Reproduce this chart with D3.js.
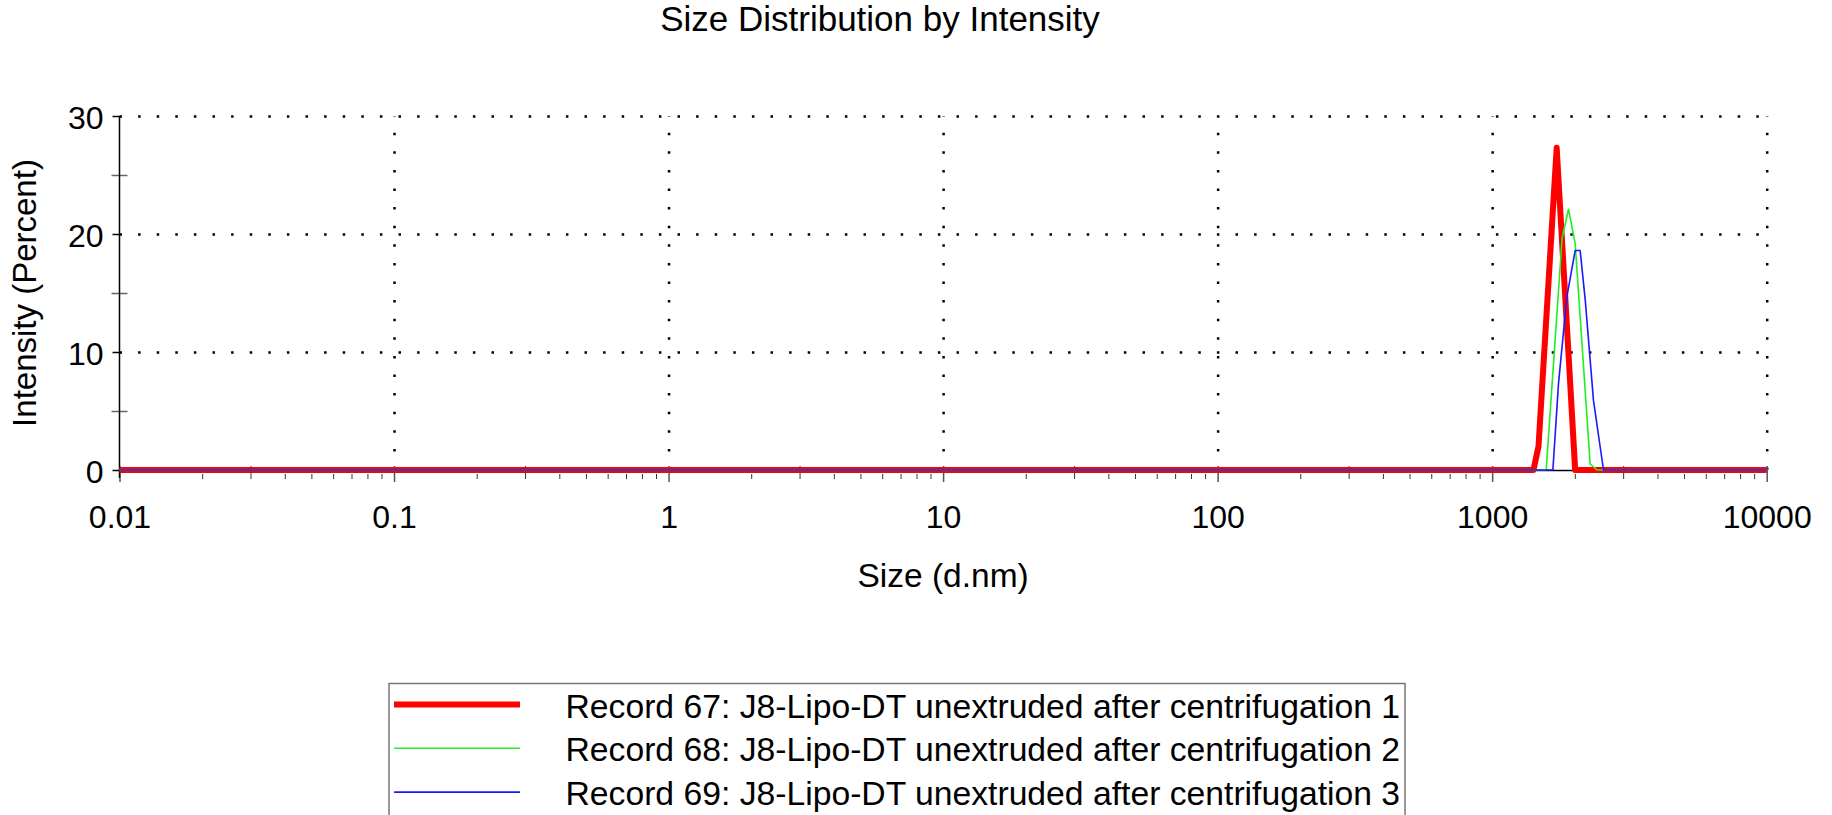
<!DOCTYPE html>
<html>
<head>
<meta charset="utf-8">
<script src="https://cdn.jsdelivr.net/npm/d3@7"></script>
<style>
  body { margin: 0; background: #fff; }
  svg { display: block; font-family: "Liberation Sans", Arial, sans-serif; }
</style>
</head>
<body>
<svg id="chart" width="1832" height="815"></svg>
<script>
// size (d.nm) / intensity (%), one pair per record
const sizes67 = [0.01, 1414, 1475, 1718, 2006, 10000]
const intensity67 = [0, 0, 2.0, 27.3, 0, 0]

const sizes68 = [0.01, 1573, 1799, 1897, 2006, 2275, 2413, 10000]
const intensity68 = [0, 0, 19.7, 22.1, 19.2, 0.5, 0, 0]

const sizes69 = [0.01, 1664, 1744, 1872, 2006, 2092, 2183, 2339, 2544, 10000]
const intensity69 = [0, 0, 7.3, 14.7, 18.6, 18.6, 14.4, 5.9, 0, 0]

const recordNames = [
  'Record 67: J8-Lipo-DT unextruded after centrifugation 1',
  'Record 68: J8-Lipo-DT unextruded after centrifugation 2',
  'Record 69: J8-Lipo-DT unextruded after centrifugation 3'
]

const xTicks = [0.01, 0.1, 1, 10, 100, 1000, 10000]
const xTickLabels = ['0.01', '0.1', '1', '10', '100', '1000', '10000']
const yTicks = [0, 10, 20, 30]
const yMinorTicks = [5, 15, 25]

var svg = d3.select('#chart')
var pLeft = 119.5, pRight = 1766.7, pTop = 116, pBottom = 470

var x = d3.scaleLog().domain([0.01, 10000]).range([pLeft, pRight])
var y = d3.scaleLinear().domain([0, 30]).range([pBottom, pTop])

var records = [
  {name: recordNames[0], sizes: sizes67, vals: intensity67, color: '#ff0000', width: 6},
  {name: recordNames[1], sizes: sizes68, vals: intensity68, color: '#22ee22', width: 1.6},
  {name: recordNames[2], sizes: sizes69, vals: intensity69, color: '#1a1aff', width: 1.6}
]

// title
svg.append('text')
  .attr('x', 880).attr('y', 31)
  .attr('text-anchor', 'middle')
  .attr('font-size', 35)
  .text('Size Distribution by Intensity')

// dotted grid
svg.append('g')
  .attr('transform', 'translate(0,' + pBottom + ')')
  .call(d3.axisBottom(x).tickValues(xTicks.slice(1)).tickSize(-(pBottom - pTop)).tickFormat(''))
  .call(g => g.select('.domain').remove())
  .selectAll('.tick line')
  .attr('stroke', '#000').attr('stroke-width', 2.5).attr('stroke-dasharray', '2.5 16.1')

svg.append('g')
  .attr('transform', 'translate(' + pLeft + ',0)')
  .call(d3.axisLeft(y).tickValues(yTicks.slice(1)).tickSize(-(pRight - pLeft)).tickFormat(''))
  .call(g => g.select('.domain').remove())
  .selectAll('.tick line')
  .attr('stroke', '#000').attr('stroke-width', 2.5).attr('stroke-dasharray', '2.5 16.1')

// x axis
var minorX = []
for (var k = -2; k < 4; k++) {
  for (var m = 2; m < 10; m++) minorX.push(m * Math.pow(10, k))
}

svg.append('g')
  .attr('transform', 'translate(0,' + pBottom + ')')
  .call(d3.axisBottom(x).tickValues(minorX).tickSize(9).tickFormat(''))
  .call(g => g.select('.domain').remove())
  .selectAll('.tick line')
  .attr('stroke', '#333')
  .attr('y1', d => (Math.round(d / Math.pow(10, Math.floor(Math.log10(d) + 1e-9))) === 3 ? -4 : 4))

var xAxis = svg.append('g')
  .attr('transform', 'translate(0,' + pBottom + ')')
  .call(d3.axisBottom(x).tickValues(xTicks).tickSizeInner(12).tickSizeOuter(0).tickPadding(23)
    .tickFormat((d, i) => xTickLabels[i]))
xAxis.select('.domain').attr('stroke', '#000').attr('stroke-width', 1.5)
xAxis.selectAll('.tick line').attr('y1', -4).attr('stroke', '#555').attr('stroke-width', 1.5)
xAxis.selectAll('text').attr('font-size', 32).attr('fill', '#000').attr('font-family', null)

// y axis
svg.append('g')
  .attr('transform', 'translate(' + pLeft + ',0)')
  .call(d3.axisLeft(y).tickValues(yMinorTicks).tickSize(8).tickFormat(''))
  .call(g => g.select('.domain').remove())
  .selectAll('.tick line')
  .attr('x1', 8).attr('stroke', '#666').attr('stroke-width', 1.5)

var yAxis = svg.append('g')
  .attr('transform', 'translate(' + pLeft + ',0)')
  .call(d3.axisLeft(y).tickValues(yTicks).tickSize(7).tickPadding(9))
yAxis.select('.domain').remove()
yAxis.selectAll('.tick line').attr('stroke', '#000').attr('stroke-width', 1.5)
yAxis.selectAll('text').attr('font-size', 32).attr('fill', '#000').attr('font-family', null).attr('dy', '0.4em')

svg.append('line')
  .attr('x1', pLeft).attr('x2', pLeft)
  .attr('y1', y(30)).attr('y2', y(0) + 8)
  .attr('stroke', '#000').attr('stroke-width', 1.5)

// axis titles
svg.append('text')
  .attr('transform', 'translate(36,' + (pTop + pBottom) / 2 + ') rotate(-90)')
  .attr('text-anchor', 'middle')
  .attr('font-size', 33)
  .text('Intensity (Percent)')

svg.append('text')
  .attr('x', (pLeft + pRight) / 2).attr('y', 587)
  .attr('text-anchor', 'middle')
  .attr('font-size', 33.5)
  .text('Size (d.nm)')

// curves
var line = d3.line()
  .x(d => x(d[0]))
  .y(d => y(d[1]))

svg.append('g').selectAll('path')
  .data(records)
  .enter()
  .append('path')
  .attr('d', d => line(d.sizes.map((s, i) => [s, d.vals[i]])))
  .attr('fill', 'none')
  .attr('stroke', d => d.color)
  .attr('stroke-width', d => d.width)
  .attr('stroke-linejoin', 'round')

// legend
var legend = svg.append('g')
legend.append('rect')
  .attr('x', 389).attr('y', 683.5)
  .attr('width', 1016).attr('height', 160)
  .attr('fill', 'none').attr('stroke', '#777').attr('stroke-width', 1.5)

var rows = legend.selectAll('g.row')
  .data(records)
  .enter()
  .append('g')
  .attr('class', 'row')
  .attr('transform', (d, i) => 'translate(0,' + (704.5 + i * 43.8) + ')')

rows.append('line')
  .attr('x1', 394).attr('x2', 520)
  .attr('stroke', d => d.color)
  .attr('stroke-width', d => d.width)

rows.append('text')
  .attr('x', 565.5).attr('y', 13)
  .attr('font-size', 33.7)
  .text(d => d.name)
</script>
</body>
</html>
